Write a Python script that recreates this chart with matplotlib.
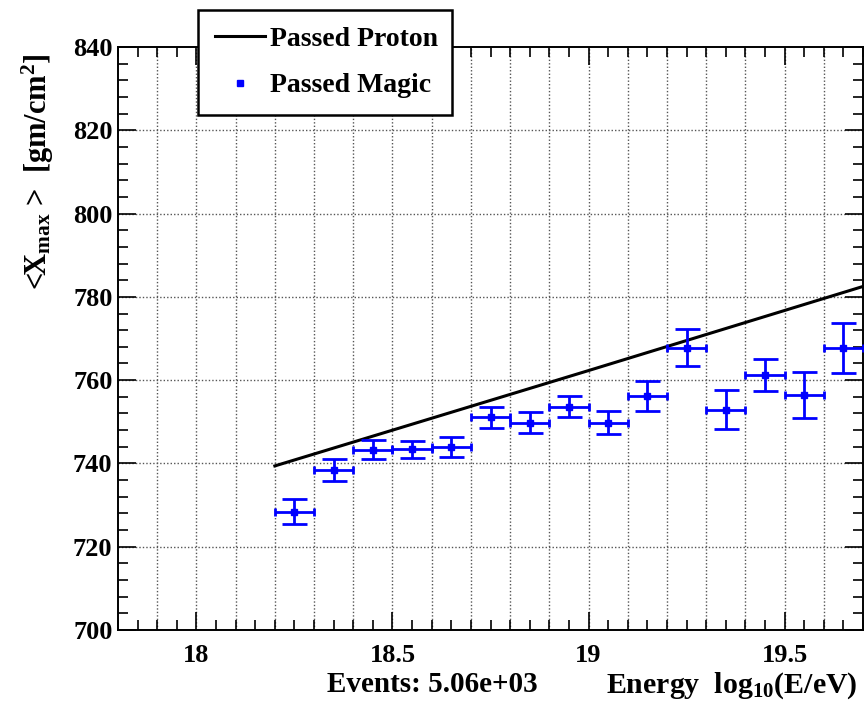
import numpy as np
import matplotlib
matplotlib.use('Agg')
import matplotlib.pyplot as plt
from matplotlib.ticker import MultipleLocator
from matplotlib.lines import Line2D

# <Xmax> per energy bin (bin centres, width 0.1 in log10 E)
energy = [18.25, 18.35, 18.45, 18.55, 18.65, 18.75, 18.85, 18.95,
          19.05, 19.15, 19.25, 19.35, 19.45, 19.55, 19.65]
xmax_magic = [728.4, 738.5, 743.3, 743.4, 744.0, 751.1, 749.8, 753.6,
              749.8, 756.1, 767.8, 752.9, 761.2, 756.4, 767.7]
xmax_err = [3.0, 2.6, 2.3, 2.1, 2.4, 2.5, 2.5, 2.5,
            2.8, 3.6, 4.5, 4.7, 3.9, 5.5, 6.0]
bin_half = [0.05] * len(energy)

# proton expectation
proton_e = [18.2, 19.0, 19.7]
proton_x = [739.4, 762.3, 782.5]

n_events = 5.06e3

plt.rcParams['font.family'] = 'Liberation Serif'
plt.rcParams['font.weight'] = 'bold'
plt.rcParams['mathtext.fontset'] = 'custom'
plt.rcParams['mathtext.rm'] = 'Liberation Serif:bold'
plt.rcParams['mathtext.it'] = 'Liberation Serif:bold'
plt.rcParams['mathtext.bf'] = 'Liberation Serif:bold'

fig = plt.figure(figsize=(8.65, 7.09), dpi=100)
ax = fig.add_axes([118 / 865, 1 - 630 / 709, 745 / 865, 583 / 709])

ax.plot(proton_e, proton_x, color='black', lw=2.2, zorder=3)

blue = '#0000ff'
# vertical errors with wide caps, horizontal bin widths with short caps
ax.errorbar(energy, xmax_magic, yerr=xmax_err, fmt='s', color=blue,
            ms=4.5, elinewidth=2, capsize=9, capthick=2, zorder=4)
ax.errorbar(energy, xmax_magic, xerr=bin_half, fmt='none', ecolor=blue,
            elinewidth=2, capsize=2.6, capthick=2, zorder=4)

ax.set_xlim(17.8, 19.7)
ax.set_ylim(700, 840)

ax.xaxis.set_major_locator(MultipleLocator(0.5))
ax.xaxis.set_minor_locator(MultipleLocator(0.05))
ax.yaxis.set_major_locator(MultipleLocator(20))
ax.yaxis.set_minor_locator(MultipleLocator(4))
ax.xaxis.set_major_formatter(matplotlib.ticker.FuncFormatter(lambda v, p: f'{v:g}'))

ax.tick_params(which='both', direction='in', top=True, right=True, width=1.2)
ax.tick_params(which='major', length=13, labelsize=19)
ax.tick_params(which='minor', length=7)
ax.tick_params(axis='x', which='major', pad=10)
ax.tick_params(axis='y', which='major', pad=4)
for s in ax.spines.values():
    s.set_linewidth(1.4)

# dotted grid: every 0.1 in energy, every 20 in depth
for g in np.arange(17.9, 19.65, 0.1):
    ax.axvline(g, color='#555555', lw=1.0, ls=(0, (1, 1.5)), zorder=1)
for g in range(720, 840, 20):
    ax.axhline(g, color='#555555', lw=1.0, ls=(0, (1, 1.5)), zorder=1)

fig.text(858 / 865, 1 - 670 / 709, r'Energy  log$_{10}$(E/eV)',
         ha='right', va='top', fontsize=21.5)
fig.text(327 / 865, 1 - 671 / 709, f'Events: {n_events:.2e}',
         ha='left', va='top', fontsize=21)
fig.text(38 / 865, 1 - 172 / 709, r'<X$_{max}$ >  [gm/cm$^{2}$]',
         rotation=90, ha='center', va='center', fontsize=22)

handles = [Line2D([], [], color='black', lw=2.2),
           Line2D([], [], ls='none', marker='s', color=blue, ms=4.5)]
leg = fig.legend(handles, ['Passed Proton', 'Passed Magic'],
                 loc='upper left', mode='expand',
                 bbox_to_anchor=(198 / 865, 1 - 111 / 709, 254 / 865, 101 / 709),
                 fontsize=20, frameon=True, fancybox=False, framealpha=1,
                 edgecolor='black', handlelength=1.8, handletextpad=0.2,
                 labelspacing=0.75, borderpad=0.6, borderaxespad=0)
leg.get_frame().set_linewidth(1.8)

fig.savefig('out.png', dpi=100)
